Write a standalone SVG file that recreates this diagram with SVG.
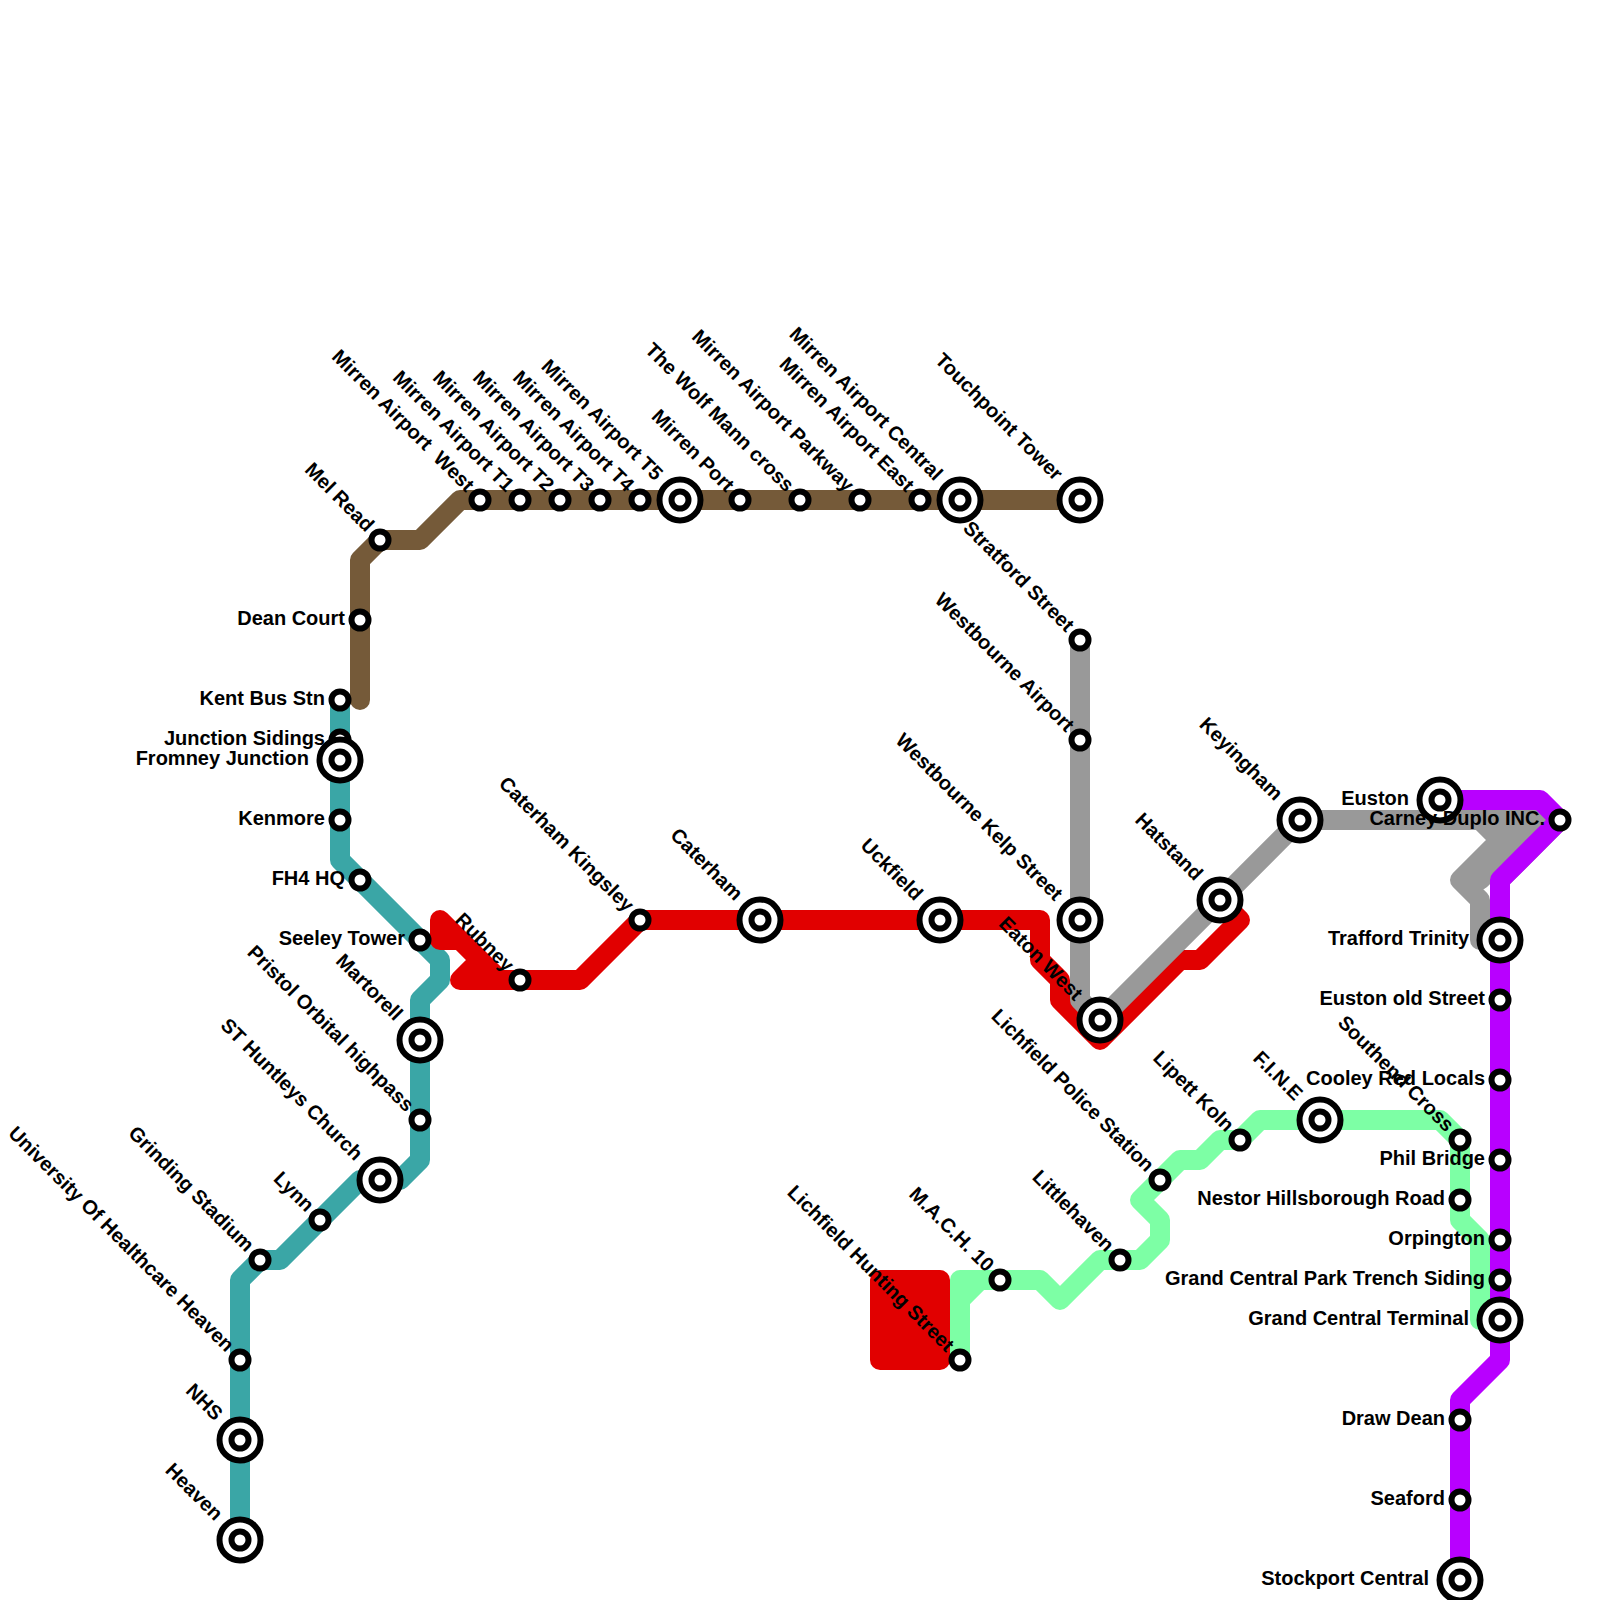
<svg xmlns="http://www.w3.org/2000/svg" width="1600" height="1600" viewBox="0 0 1600 1600">
<style>
.l{fill:none;stroke-width:20;stroke-linejoin:round;stroke-linecap:round}
.teal{stroke:#3aa6a6}.brown{stroke:#755a39}.red{stroke:#e10000}.gray{stroke:#999999}.green{stroke:#7dffa5}.purple{stroke:#b800ff}
.o{fill:#fff;stroke:#000;stroke-width:6}
text{font-family:"Liberation Sans",Arial,sans-serif;font-weight:700;font-size:20px;fill:#000;text-anchor:end}
</style>
<defs>
<g id="s"><circle class="o" r="8.5"/></g>
<g id="b"><circle class="o" r="20.5"/><circle class="o" r="8.5"/></g>
</defs>
<rect width="1600" height="1600" fill="#fff"/>
<g id="connectors">
<path class="l teal" d="M340,700V860L440,960V980L420,1000V1160L400,1180H360L280,1260H260L240,1280V1540"/>
<path class="l brown" d="M360,700V560L380,540H420L460,500H1080"/>
<path class="l red" d="M640,920L580,980H460L480,960L460,940H440V920L500,980H520M640,920H1040V960L1060,980V1000L1100,1040L1180,960H1200L1240,920L1220,900"/>
<path class="l red" style="fill:#e10000" d="M880,1280H940V1360H880Z"/>
<path class="l gray" d="M1080,640V1000L1100,1020L1300,820H1560L1500,880M1520,820L1460,880L1480,900V940H1500M1480,820L1510,850M1540,820L1480,880"/>
<path class="l green" d="M960,1360V1280H1040L1060,1300L1100,1260H1140L1160,1240V1220L1140,1200L1180,1160H1200L1220,1140H1240L1260,1120H1440L1460,1140V1220L1480,1240V1320H1500M960,1300L980,1280"/>
<path class="l purple" d="M1440,800H1540L1560,820L1500,880V1360L1460,1400V1580"/>
</g>
<g id="n-kent-bus-stn"><use href="#s" x="340" y="700"/><text x="325" y="705">Kent Bus Stn</text></g>
<g id="n-junction-sidings"><use href="#s" x="340" y="740"/><text x="325" y="745">Junction Sidings</text></g>
<g id="n-fromney-junction"><use href="#b" x="340" y="760"/><text x="309" y="765">Fromney Junction</text></g>
<g id="n-kenmore"><use href="#s" x="340" y="820"/><text x="325" y="825">Kenmore</text></g>
<g id="n-fh4-hq"><use href="#s" x="360" y="880"/><text x="345" y="885">FH4 HQ</text></g>
<g id="n-seeley-tower"><use href="#s" x="420" y="940"/><text x="405" y="945">Seeley Tower</text></g>
<g id="n-martorell"><use href="#b" x="420" y="1040"/><text transform="translate(420,1040) rotate(45)" x="-31" y="5">Martorell</text></g>
<g id="n-pristol"><use href="#s" x="420" y="1120"/><text transform="translate(420,1120) rotate(45)" x="-15" y="5">Pristol Orbital highpass</text></g>
<g id="n-st-huntleys"><use href="#b" x="380" y="1180"/><text transform="translate(380,1180) rotate(45)" x="-31" y="5">ST Huntleys Church</text></g>
<g id="n-lynn"><use href="#s" x="320" y="1220"/><text transform="translate(320,1220) rotate(45)" x="-15" y="5">Lynn</text></g>
<g id="n-grinding"><use href="#s" x="260" y="1260"/><text transform="translate(260,1260) rotate(45)" x="-15" y="5">Grinding Stadium</text></g>
<g id="n-uni"><use href="#s" x="240" y="1360"/><text transform="translate(240,1360) rotate(45)" x="-15" y="5">University Of Healthcare Heaven</text></g>
<g id="n-nhs"><use href="#b" x="240" y="1440"/><text transform="translate(240,1440) rotate(45)" x="-31" y="5">NHS</text></g>
<g id="n-heaven"><use href="#b" x="240" y="1540"/><text transform="translate(240,1540) rotate(45)" x="-31" y="5">Heaven</text></g>
<g id="n-dean-court"><use href="#s" x="360" y="620"/><text x="345" y="625">Dean Court</text></g>
<g id="n-mel-read"><use href="#s" x="380" y="540"/><text transform="translate(380,540) rotate(45)" x="-15" y="5">Mel Read</text></g>
<g id="n-mirren-west"><use href="#s" x="480" y="500"/><text transform="translate(480,500) rotate(45)" x="-15" y="5" xml:space="preserve">Mirren Airport  West</text></g>
<g id="n-mirren-t1"><use href="#s" x="520" y="500"/><text transform="translate(520,500) rotate(45)" x="-15" y="5">Mirren Airport T1</text></g>
<g id="n-mirren-t2"><use href="#s" x="560" y="500"/><text transform="translate(560,500) rotate(45)" x="-15" y="5">Mirren Airport T2</text></g>
<g id="n-mirren-t3"><use href="#s" x="600" y="500"/><text transform="translate(600,500) rotate(45)" x="-15" y="5">Mirren Airport T3</text></g>
<g id="n-mirren-t4"><use href="#s" x="640" y="500"/><text transform="translate(640,500) rotate(45)" x="-15" y="5">Mirren Airport T4</text></g>
<g id="n-mirren-t5"><use href="#b" x="680" y="500"/><text transform="translate(680,500) rotate(45)" x="-31" y="5">Mirren Airport T5</text></g>
<g id="n-mirren-port"><use href="#s" x="740" y="500"/><text transform="translate(740,500) rotate(45)" x="-15" y="5">Mirren Port</text></g>
<g id="n-wolf-mann"><use href="#s" x="800" y="500"/><text transform="translate(800,500) rotate(45)" x="-15" y="5">The Wolf Mann cross</text></g>
<g id="n-mirren-parkway"><use href="#s" x="860" y="500"/><text transform="translate(860,500) rotate(45)" x="-15" y="5">Mirren Airport Parkway</text></g>
<g id="n-mirren-east"><use href="#s" x="920" y="500"/><text transform="translate(920,500) rotate(45)" x="-15" y="5">Mirren Airport East</text></g>
<g id="n-mirren-central"><use href="#b" x="960" y="500"/><text transform="translate(960,500) rotate(45)" x="-31" y="5">Mirren Airport Central</text></g>
<g id="n-touchpoint"><use href="#b" x="1080" y="500"/><text transform="translate(1080,500) rotate(45)" x="-31" y="5">Touchpoint Tower</text></g>
<g id="n-rubney"><use href="#s" x="520" y="980"/><text transform="translate(520,980) rotate(45)" x="-15" y="5">Rubney</text></g>
<g id="n-caterham-kingsley"><use href="#s" x="640" y="920"/><text transform="translate(640,920) rotate(45)" x="-15" y="5">Caterham Kingsley</text></g>
<g id="n-caterham"><use href="#b" x="760" y="920"/><text transform="translate(760,920) rotate(45)" x="-31" y="5">Caterham</text></g>
<g id="n-uckfield"><use href="#b" x="940" y="920"/><text transform="translate(940,920) rotate(45)" x="-31" y="5">Uckfield</text></g>
<g id="n-stratford"><use href="#s" x="1080" y="640"/><text transform="translate(1080,640) rotate(45)" x="-15" y="5">Stratford Street</text></g>
<g id="n-westbourne-airport"><use href="#s" x="1080" y="740"/><text transform="translate(1080,740) rotate(45)" x="-15" y="5">Westbourne Airport</text></g>
<g id="n-westbourne-kelp"><use href="#b" x="1080" y="920"/><text transform="translate(1080,920) rotate(45)" x="-31" y="5">Westbourne Kelp Street</text></g>
<g id="n-eaton-west"><use href="#b" x="1100" y="1020"/><text transform="translate(1100,1020) rotate(45)" x="-31" y="5">Eaton West</text></g>
<g id="n-hatstand"><use href="#b" x="1220" y="900"/><text transform="translate(1220,900) rotate(45)" x="-31" y="5">Hatstand</text></g>
<g id="n-keyingham"><use href="#b" x="1300" y="820"/><text transform="translate(1300,820) rotate(45)" x="-31" y="5">Keyingham</text></g>
<g id="n-euston"><use href="#b" x="1440" y="800"/><text x="1409" y="805">Euston</text></g>
<g id="n-carney"><use href="#s" x="1560" y="820"/><text x="1545" y="825">Carney Duplo INC.</text></g>
<g id="n-trafford"><use href="#b" x="1500" y="940"/><text x="1469" y="945">Trafford Trinity</text></g>
<g id="n-euston-old"><use href="#s" x="1500" y="1000"/><text x="1485" y="1005">Euston old Street</text></g>
<g id="n-cooley"><use href="#s" x="1500" y="1080"/><text x="1485" y="1085">Cooley Red Locals</text></g>
<g id="n-phil"><use href="#s" x="1500" y="1160"/><text x="1485" y="1165">Phil Bridge</text></g>
<g id="n-orpington"><use href="#s" x="1500" y="1240"/><text x="1485" y="1245">Orpington</text></g>
<g id="n-gc-park"><use href="#s" x="1500" y="1280"/><text x="1485" y="1285">Grand Central Park Trench Siding</text></g>
<g id="n-gc-terminal"><use href="#b" x="1500" y="1320"/><text x="1469" y="1325">Grand Central Terminal</text></g>
<g id="n-draw-dean"><use href="#s" x="1460" y="1420"/><text x="1445" y="1425">Draw Dean</text></g>
<g id="n-seaford"><use href="#s" x="1460" y="1500"/><text x="1445" y="1505">Seaford</text></g>
<g id="n-stockport"><use href="#b" x="1460" y="1580"/><text x="1429" y="1585">Stockport Central</text></g>
<g id="n-lichfield-hunting"><use href="#s" x="960" y="1360"/><text transform="translate(960,1360) rotate(45)" x="-15" y="5">Lichfield Hunting Street</text></g>
<g id="n-mach"><use href="#s" x="1000" y="1280"/><text transform="translate(1000,1280) rotate(45)" x="-15" y="5">M.A.C.H. 10</text></g>
<g id="n-littlehaven"><use href="#s" x="1120" y="1260"/><text transform="translate(1120,1260) rotate(45)" x="-15" y="5">Littlehaven</text></g>
<g id="n-lichfield-police"><use href="#s" x="1160" y="1180"/><text transform="translate(1160,1180) rotate(45)" x="-15" y="5">Lichfield Police Station</text></g>
<g id="n-lipett"><use href="#s" x="1240" y="1140"/><text transform="translate(1240,1140) rotate(45)" x="-15" y="5">Lipett Koln</text></g>
<g id="n-fine"><use href="#b" x="1320" y="1120"/><text transform="translate(1320,1120) rotate(45)" x="-31" y="5">F.I.N.E</text></g>
<g id="n-southend"><use href="#s" x="1460" y="1140"/><text transform="translate(1460,1140) rotate(45)" x="-15" y="5">Southend Cross</text></g>
<g id="n-nestor"><use href="#s" x="1460" y="1200"/><text x="1445" y="1205">Nestor Hillsborough Road</text></g>
</svg>
